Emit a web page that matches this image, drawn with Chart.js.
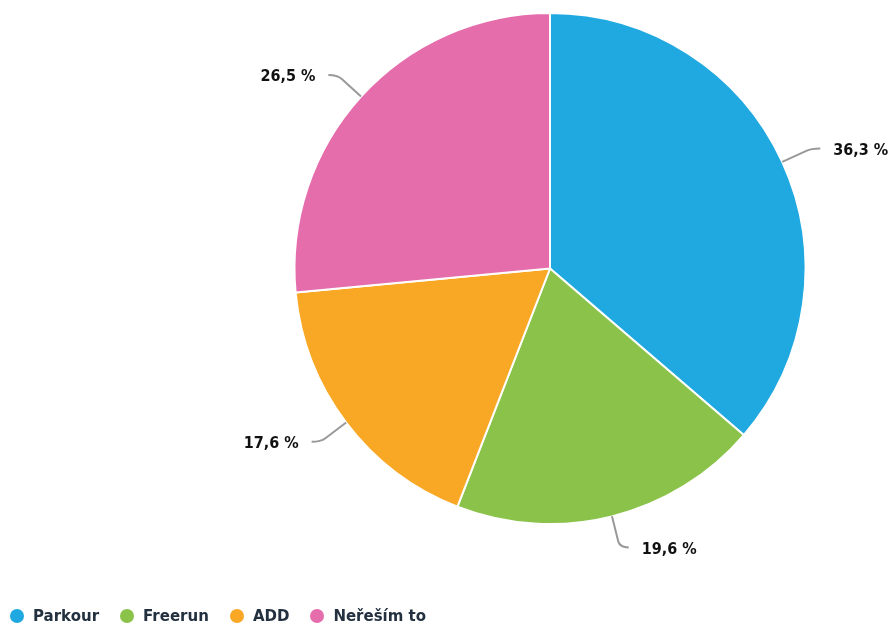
<!DOCTYPE html>
<html>
<head>
<meta charset="utf-8">
<script src="https://cdn.jsdelivr.net/npm/chart.js@4"></script>
<style>
  html, body { margin: 0; padding: 0; background: #fff; }
  #wrap { position: relative; width: 894px; height: 627px; }
  #legend { position: absolute; left: 10px; top: 607px; display: flex; align-items: center;
            font: bold 15px "DejaVu Sans"; color: #22303f; }
  .item { display: flex; align-items: center; margin-right: 21px; }
  .dot { width: 14px; height: 14px; border-radius: 50%; margin-right: 9px; }
</style>
</head>
<body>
<div id="wrap">
  <canvas id="pie" width="894" height="627"></canvas>
  <div id="legend"></div>
</div>
<script>
const categories = ['Parkour', 'Freerun', 'ADD', 'Neřeším to'];
const shares = [36.3, 19.6, 17.6, 26.5];
const sliceColors = ['#20A9E1', '#8BC34A', '#F9A825', '#E56DAB'];

const fmt = v => v.toFixed(1).replace('.', ',') + ' %';

// value labels with a bent connector line outside each slice
const leaderLabels = {
  id: 'leaderLabels',
  afterDatasetsDraw(chart) {
    const ctx = chart.ctx;
    const meta = chart.getDatasetMeta(0);
    meta.data.forEach((arc, i) => {
      const { x, y, startAngle, endAngle, outerRadius } =
        arc.getProps(['x', 'y', 'startAngle', 'endAngle', 'outerRadius'], true);
      const mid = (startAngle + endAngle) / 2;
      const cos = Math.cos(mid), sin = Math.sin(mid);
      const side = cos >= 0 ? 1 : -1;
      const r1 = outerRadius + 26, r2 = outerRadius + 32;
      const ex = x + cos * r2, ey = y + sin * r2;

      ctx.save();
      ctx.strokeStyle = '#999';
      ctx.lineWidth = 2;
      ctx.beginPath();
      ctx.moveTo(x + cos * outerRadius, y + sin * outerRadius);
      ctx.lineTo(x + cos * r1, y + sin * r1);
      ctx.quadraticCurveTo(ex, ey, ex + side * 9, ey);
      ctx.stroke();

      ctx.font = 'bold 16px "DejaVu Sans Condensed"';
      ctx.fillStyle = '#111';
      ctx.textBaseline = 'middle';
      ctx.textAlign = side > 0 ? 'left' : 'right';
      ctx.fillText(fmt(shares[i]), ex + side * 22, ey + 2);
      ctx.restore();
    });
  }
};

new Chart(document.getElementById('pie'), {
  type: 'pie',
  data: {
    labels: categories,
    datasets: [{
      data: shares,
      backgroundColor: sliceColors,
      borderColor: '#fff',
      borderWidth: 2
    }]
  },
  options: {
    responsive: false,
    animation: false,
    layout: { padding: { left: 293, right: 87, top: 12, bottom: 102 } },
    plugins: {
      legend: { display: false },
      tooltip: { enabled: false }
    }
  },
  plugins: [leaderLabels]
});

// legend row under the chart
const legend = document.getElementById('legend');
categories.forEach((name, i) => {
  const item = document.createElement('div');
  item.className = 'item';
  const dot = document.createElement('span');
  dot.className = 'dot';
  dot.style.background = sliceColors[i];
  const txt = document.createElement('span');
  txt.textContent = name;
  item.appendChild(dot);
  item.appendChild(txt);
  legend.appendChild(item);
});
</script>
</body>
</html>
